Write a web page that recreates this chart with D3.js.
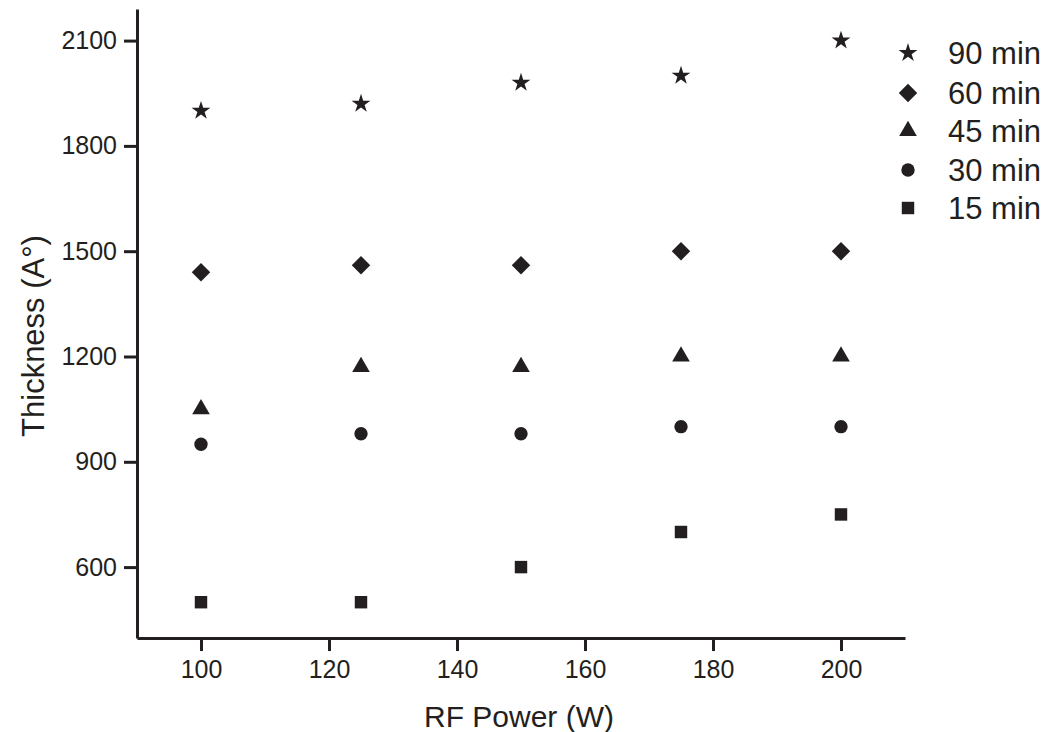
<!DOCTYPE html>
<html>
<head>
<meta charset="utf-8">
<script src="https://cdn.jsdelivr.net/npm/d3@7"></script>
<style>
  body { margin: 0; background: #fff; }
  text { font-family: "Liberation Sans", Arial, Helvetica, sans-serif; fill: #231f20; }
</style>
</head>
<body>
<div id="chart"></div>
<script>
// data
const power = [100, 125, 150, 175, 200];
const seriesNames = ["90 min", "60 min", "45 min", "30 min", "15 min"];
const t90 = [1900, 1920, 1980, 2000, 2100];
const t60 = [1440, 1460, 1460, 1500, 1500];
const t45 = [1050, 1170, 1170, 1200, 1200];
const t30 = [950, 980, 980, 1000, 1000];
const t15 = [500, 500, 600, 700, 750];
const xTicks = [100, 120, 140, 160, 180, 200];
const yTicks = [600, 900, 1200, 1500, 1800, 2100];

const width = 1046, height = 732;
const margin = { left: 137, right: 141, top: 9, bottom: 94 };

const svg = d3.select("#chart")
    .append("svg")
    .attr("width", width)
    .attr("height", height);

const x = d3.scaleLinear()
    .domain([90, 210])
    .range([margin.left, width - margin.right]);

const y = d3.scaleLinear()
    .domain([398, 2190])
    .range([height - margin.bottom, margin.top]);

const ink = "#231f20";

// symbols for each series
const shapes = [
    { type: d3.symbolStar, size: 110, rot: 0 },
    { type: d3.symbolSquare, size: 170, rot: 45 },
    { type: d3.symbolTriangle, size: 135, rot: 0 },
    { type: d3.symbolCircle, size: 140, rot: 0 },
    { type: d3.symbolSquare, size: 155, rot: 0 }
];
const values = [t90, t60, t45, t30, t15];

// axes
const xAxis = svg.append("g")
    .attr("transform", `translate(0,${height - margin.bottom})`)
    .call(d3.axisBottom(x).tickValues(xTicks).tickFormat(d3.format("d"))
        .tickSize(13).tickSizeOuter(0).tickPadding(9));

const yAxis = svg.append("g")
    .attr("transform", `translate(${margin.left},0)`)
    .call(d3.axisLeft(y).tickValues(yTicks).tickFormat(d3.format("d"))
        .tickSize(13).tickSizeOuter(0).tickPadding(7));

[xAxis, yAxis].forEach(a => {
    a.select(".domain").attr("stroke", ink).attr("stroke-width", 3);
    a.selectAll(".tick line").attr("stroke", ink).attr("stroke-width", 3);
    a.selectAll(".tick text").style("font-size", "25px").attr("fill", ink)
        .style("font-family", "'Liberation Sans', Arial, sans-serif");
});

// axis titles
svg.append("text")
    .attr("x", 519)
    .attr("y", 727)
    .attr("text-anchor", "middle")
    .style("font-size", "30px")
    .text("RF Power (W)");

svg.append("text")
    .attr("transform", `translate(44,${336}) rotate(-90)`)
    .attr("text-anchor", "middle")
    .style("font-size", "31px")
    .text("Thickness (A°)");

// points
values.forEach((vals, i) => {
    const sym = d3.symbol().type(shapes[i].type).size(shapes[i].size);
    svg.append("g")
        .selectAll("path")
        .data(vals)
        .enter().append("path")
        .attr("d", sym)
        .attr("transform", (d, j) => `translate(${x(power[j])},${y(d)}) rotate(${shapes[i].rot})`)
        .attr("fill", ink);
});

// legend
const legend = svg.append("g");
const legendY = [53, 93, 131, 170, 208];
seriesNames.forEach((name, i) => {
    const sym = d3.symbol().type(shapes[i].type).size(shapes[i].size);
    legend.append("path")
        .attr("d", sym)
        .attr("transform", `translate(908,${legendY[i]}) rotate(${shapes[i].rot})`)
        .attr("fill", ink);
    legend.append("text")
        .attr("x", 948)
        .attr("y", legendY[i] + 11)
        .style("font-size", "31px")
        .text(name);
});
</script>
</body>
</html>
